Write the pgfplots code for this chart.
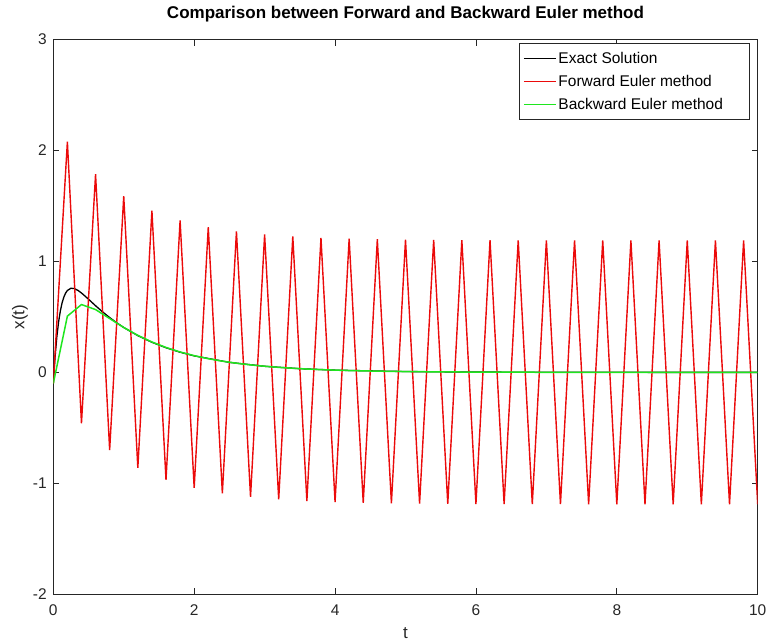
\documentclass[border=0pt]{standalone}
\usepackage{pgfplots}
\pgfplotsset{compat=1.18}
\usepackage{fontspec}
\setmainfont{Liberation Sans}
\definecolor{axcol}{rgb}{0.15,0.15,0.15}
\definecolor{begreen}{RGB}{30,230,30}
\definecolor{fered}{RGB}{235,10,10}
\begin{document}
\begin{tikzpicture}
\path[use as bounding box] (-53.3pt,-46.7pt) rectangle (715.7pt,594.3pt);
\begin{axis}[
  at={(0pt,0pt)}, anchor=south west,
  scale only axis, width=704.4pt, height=554.8pt,
  xmin=0, xmax=10, ymin=-2, ymax=3,
  xtick={0,2,4,6,8,10}, ytick={-2,-1,0,1,2,3},
  tick align=inside, major tick length=6pt,
  axis line style={axcol, line width=0.9pt},
  every tick/.style={axcol, line width=0.8pt},
  /pgf/number format/assume math mode=true,
  tick label style={font=\fontsize{15.5}{18}\selectfont, text=axcol},
  xticklabel style={yshift=-7pt},
  yticklabel style={xshift=-3pt},
  title={\bfseries Comparison between Forward and Backward Euler method},
  title style={at={(axis description cs:0.5,1)}, anchor=base, yshift=15.5pt, font=\fontsize{17}{20}\selectfont},
  xlabel={t}, ylabel={x(t)},
  xlabel style={at={([yshift=-44pt]axis description cs:0.5,0)}, anchor=base, font=\fontsize{17}{20}\selectfont, text=axcol},
  ylabel style={at={([xshift=-29pt]axis description cs:0,0.5)}, anchor=base, font=\fontsize{17}{20}\selectfont, text=axcol},
  legend style={at={([xshift=-8.4pt,yshift=-3.8pt]axis description cs:1,1)}, anchor=north east,
    draw=axcol, line width=0.6pt, font=\fontsize{15.5}{18}\selectfont,
    row sep=6.3pt, inner xsep=4pt, inner ysep=6.5pt},
  legend cell align=left,
  legend image code/.code={\draw[#1, line width=1.4pt] (0pt,0pt) -- (32pt,0pt);},
]
\addplot[black, line width=1.3pt] coordinates {
(0,-0.1) (0.025,0.13828) (0.05,0.31851) (0.075,0.45368) (0.1,0.55386)
(0.125,0.62694) (0.15,0.67902) (0.175,0.71487) (0.2,0.73820) (0.25,0.75818)
(0.3,0.75516) (0.35,0.73892) (0.4,0.71537) (0.45,0.68806) (0.5,0.65909)
(0.6,0.60072) (0.7,0.54515) (0.8,0.49386) (0.9,0.44708) (1.0,0.40462)
(1.2,0.33131) (1.4,0.27126) (1.6,0.22209) (1.8,0.18183) (2.0,0.14887)
(2.5,0.09029) (3,0.05477) (3.5,0.03322) (4,0.02015) (5,0.00741)
(6,0.00273) (7,0.00100) (8,0.00037) (10,0.00005)
};
\addlegendentry{Exact Solution}
\addplot[fered, line width=1.4pt] coordinates {
(0,-0.1) (0.2,2.08) (0.4,-0.45891) (0.6,1.78614) (0.8,-0.69949)
(1.0,1.58916) (1.2,-0.86076) (1.4,1.45712) (1.6,-0.96886) (1.8,1.36862)
(2.0,-1.04133) (2.2,1.30929) (2.4,-1.08990) (2.6,1.26952) (2.8,-1.12246)
(3.0,1.24286) (3.2,-1.14428) (3.4,1.22499) (3.6,-1.15891) (3.8,1.21301)
(4.0,-1.16872) (4.2,1.20499) (4.4,-1.17530) (4.6,1.19961) (4.8,-1.17971)
(5.0,1.19601) (5.2,-1.18267) (5.4,1.19359) (5.6,-1.18465) (5.8,1.19197)
(6.0,-1.18597) (6.2,1.19088) (6.4,-1.18686) (6.6,1.19015) (6.8,-1.18746)
(7.0,1.18967) (7.2,-1.18786) (7.4,1.18934) (7.6,-1.18813) (7.8,1.18912)
(8.0,-1.18831) (8.2,1.18897) (8.4,-1.18843) (8.6,1.18888) (8.8,-1.18852)
(9.0,1.18882) (9.2,-1.18858) (9.4,1.18878) (9.6,-1.18862) (9.8,1.18875)
(10.0,-1.18864)
};
\addlegendentry{Forward Euler method}
\addplot[begreen, line width=1.5pt] coordinates {
(0,-0.1) (0.2,0.50703) (0.4,0.61142) (0.6,0.56602) (0.8,0.48523)
(1.0,0.40454) (1.2,0.33363) (1.4,0.27396) (1.6,0.22457) (1.8,0.18395)
(2.0,0.15064) (2.2,0.12334) (2.4,0.10099) (2.6,0.08268) (2.8,0.06769)
(3.0,0.05542) (3.2,0.04538) (3.4,0.03715) (3.6,0.03042) (3.8,0.02490)
(4.0,0.02039) (4.2,0.01669) (4.4,0.01367) (4.6,0.01119) (4.8,0.00916)
(5.0,0.00750) (5.2,0.00614) (5.4,0.00503) (5.6,0.00412) (5.8,0.00337)
(6.0,0.00276) (6.2,0.00226) (6.4,0.00185) (6.6,0.00151) (6.8,0.00124)
(7.0,0.00101) (7.2,0.00083) (7.4,0.00068) (7.6,0.00056) (7.8,0.00046)
(8.0,0.00037) (8.2,0.0003) (8.4,0.00025) (8.6,0.0002) (8.8,0.00016)
(9.0,0.00013) (9.2,0.0001) (9.4,0.00009) (9.6,0.00007) (9.8,0.00006)
(10.0,0.00005)
};
\addlegendentry{Backward Euler method\hspace*{20pt}}
\end{axis}
\end{tikzpicture}
\end{document}
